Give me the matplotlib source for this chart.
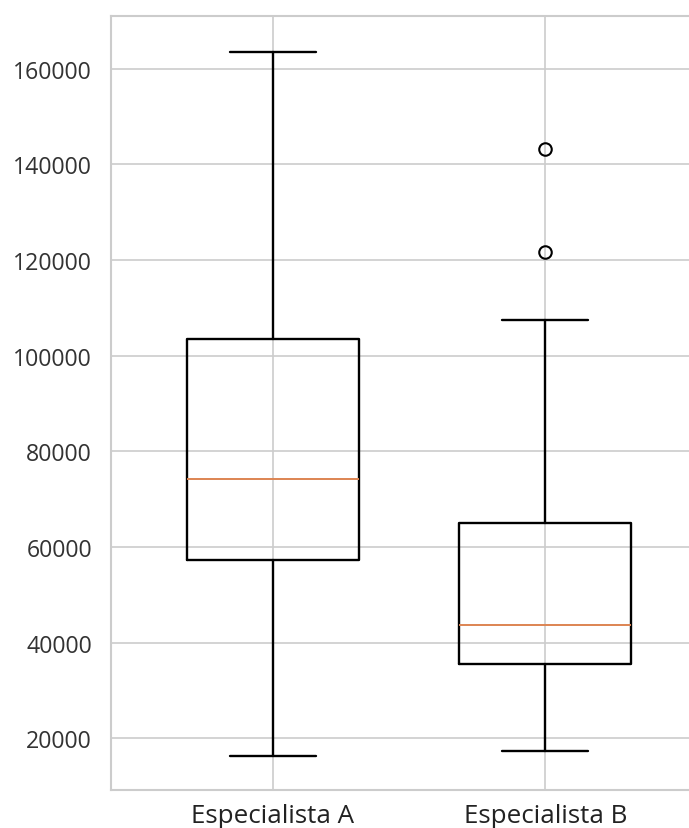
import matplotlib
matplotlib.use("Agg")
import matplotlib.pyplot as plt
import seaborn as sns

# summary stats
labels = ["Especialista A", "Especialista B"]
whislo = [16230, 17280]
q1 = [57340, 35480]
med = [74140, 43640]
q3 = [103450, 64960]
whishi = [163400, 107430]
fliers = [[], [121590, 143220]]

sns.set_theme(style="whitegrid")
plt.rcParams['font.family'] = ['Open Sans', 'DejaVu Sans']

stats = []
for i in range(len(labels)):
    stats.append({"label": labels[i], "whislo": whislo[i], "q1": q1[i], "med": med[i],
                  "q3": q3[i], "whishi": whishi[i], "fliers": fliers[i]})

fig = plt.figure(figsize=(6.89, 8.29), dpi=100)
ax = fig.add_axes([0.1618, 0.0458, 0.8636, 0.9341])

lw = 1.7
ax.bxp(stats, widths=0.63,
       boxprops=dict(color="black", linewidth=lw),
       whiskerprops=dict(color="black", linewidth=lw),
       capprops=dict(color="black", linewidth=lw),
       medianprops=dict(color="#dd8452", linewidth=1.4),
       flierprops=dict(marker="o", markerfacecolor="none", markeredgecolor="black",
                       markersize=9, markeredgewidth=1.5))

ax.set_xlim(0.408, 2.592)
ax.set_ylim(9160, 171090)
ax.set_yticks([20000, 40000, 60000, 80000, 100000, 120000, 140000, 160000])
ax.grid(True, color="#cccccc", linewidth=1.2)
for s in ax.spines.values():
    s.set_color("#cccccc")
    s.set_linewidth(1.5)
ax.tick_params(axis="y", labelsize=16.7, pad=14, colors="#333333", length=0)
ax.tick_params(axis="x", labelsize=18.7, pad=9, colors="#222222", length=0)

fig.savefig("out.png", dpi=100)
